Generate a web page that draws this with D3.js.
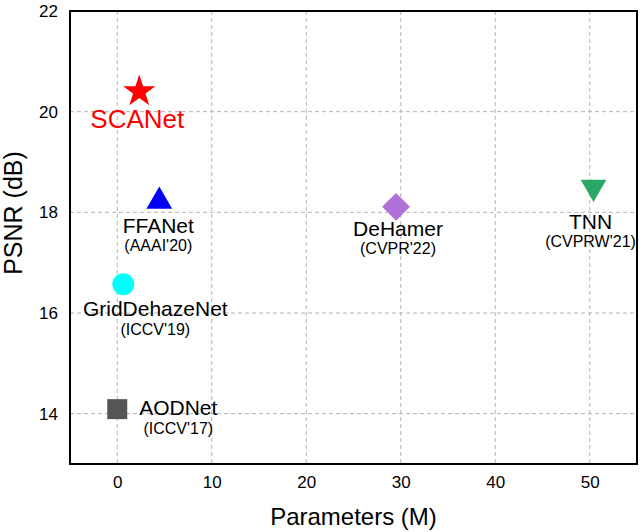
<!DOCTYPE html>
<html>
<head>
<meta charset="utf-8">
<script src="https://cdn.jsdelivr.net/npm/d3@7"></script>
<style>
  body { margin: 0; background: #fff; }
  text { font-family: Arial, "Liberation Sans", sans-serif; }
</style>
</head>
<body>
<svg id="chart"></svg>
<script>
// data
const methods = ["SCANet", "FFANet", "GridDehazeNet", "AODNet", "DeHamer", "TNN"];
const venues = ["", "(AAAI'20)", "(ICCV'19)", "(ICCV'17)", "(CVPR'22)", "(CVPRW'21)"];
const params = [2.33, 4.45, 0.64, 0.0, 29.5, 50.4];
const psnr = [20.4, 18.22, 16.57, 14.09, 18.11, 18.5];
const xTicks = [0, 10, 20, 30, 40, 50];
const yTicks = [14, 16, 18, 20, 22];

// styling per method
const markerStyle = [
    {shape: "star", size: 324, color: "#ff0000", rotate: 0},
    {shape: "triangle", size: 286, color: "#0000ff", rotate: 0},
    {shape: "circle", size: 380, color: "#00ffff", rotate: 0},
    {shape: "square", size: 400, color: "#555555", rotate: 0},
    {shape: "square", size: 384, color: "#b070d8", rotate: 45},
    {shape: "triangle", size: 286, color: "#2aa866", rotate: 180},
];
// label offsets from the marker, px: [dx, dy main, dy sub]
const labelOffsets = [
    [-2, 36, 0],
    [-1, 31.5, 49.5],
    [32, 32, 51],
    [61, 6, 25],
    [2, 29, 47],
    [-3, 42, 60],
];

const width = 640;
const height = 532;
const margin = {top: 11, right: 3, bottom: 68, left: 70};
const innerW = width - margin.left - margin.right;
const innerH = height - margin.top - margin.bottom;

const svg = d3.select("#chart")
    .attr("width", width)
    .attr("height", height);

const x = d3.scaleLinear().domain([-5, 55]).range([margin.left, margin.left + innerW]);
const y = d3.scaleLinear().domain([13, 22]).range([margin.top + innerH, margin.top]);

// dashed grid
svg.append("g")
    .selectAll("line")
    .data(xTicks)
    .enter().append("line")
    .attr("x1", d => x(d)).attr("x2", d => x(d))
    .attr("y1", margin.top).attr("y2", margin.top + innerH)
    .attr("stroke", "#b4b4b4")
    .attr("stroke-width", 1)
    .attr("stroke-dasharray", "4,3");

svg.append("g")
    .selectAll("line")
    .data(yTicks)
    .enter().append("line")
    .attr("x1", margin.left).attr("x2", margin.left + innerW)
    .attr("y1", d => y(d)).attr("y2", d => y(d))
    .attr("stroke", "#b4b4b4")
    .attr("stroke-width", 1)
    .attr("stroke-dasharray", "4,3");

// axes (labels only, frame drawn below)
const xAxis = svg.append("g")
    .attr("transform", `translate(0, ${margin.top + innerH})`)
    .call(d3.axisBottom(x).tickValues(xTicks).tickSize(0).tickPadding(12));
xAxis.select(".domain").remove();
xAxis.selectAll("text").attr("font-size", "17px").attr("fill", "#000")
    .style("font-family", "Arial, 'Liberation Sans', sans-serif");

const yAxis = svg.append("g")
    .attr("transform", `translate(${margin.left}, 0)`)
    .call(d3.axisLeft(y).tickValues(yTicks).tickSize(0).tickPadding(12));
yAxis.select(".domain").remove();
yAxis.selectAll("text").attr("font-size", "17px").attr("fill", "#000")
    .style("font-family", "Arial, 'Liberation Sans', sans-serif");

svg.append("rect")
    .attr("x", margin.left)
    .attr("y", margin.top)
    .attr("width", innerW)
    .attr("height", innerH)
    .attr("fill", "none")
    .attr("stroke", "#000")
    .attr("stroke-width", 2);

// axis titles
svg.append("text")
    .attr("x", margin.left + innerW / 2)
    .attr("y", 525)
    .attr("text-anchor", "middle")
    .attr("font-size", "24px")
    .text("Parameters (M)");

svg.append("text")
    .attr("transform", "translate(22, 213) rotate(-90)")
    .attr("text-anchor", "middle")
    .attr("font-size", "25px")
    .text("PSNR (dB)");

// markers
const symbolTypes = {
    star: d3.symbolStar,
    triangle: d3.symbolTriangle,
    circle: d3.symbolCircle,
    square: d3.symbolSquare,
};

const points = methods.map((m, i) => ({
    name: m,
    venue: venues[i],
    px: params[i],
    py: psnr[i],
    style: markerStyle[i],
    off: labelOffsets[i],
}));

svg.append("g")
    .selectAll("path")
    .data(points)
    .enter().append("path")
    .attr("transform", d => `translate(${x(d.px)}, ${y(d.py)}) rotate(${d.style.rotate})`)
    .attr("d", d => d3.symbol().type(symbolTypes[d.style.shape]).size(d.style.size)())
    .attr("fill", d => d.style.color);

// labels
svg.append("g")
    .selectAll("text")
    .data(points)
    .enter().append("text")
    .attr("x", d => x(d.px) + d.off[0])
    .attr("y", d => y(d.py) + d.off[1])
    .attr("text-anchor", "middle")
    .attr("font-size", d => d.name === "SCANet" ? "26px" : "21px")
    .attr("fill", d => d.name === "SCANet" ? "#ff0000" : "#000")
    .text(d => d.name);

svg.append("g")
    .selectAll("text")
    .data(points.filter(d => d.venue !== ""))
    .enter().append("text")
    .attr("x", d => x(d.px) + d.off[0])
    .attr("y", d => y(d.py) + d.off[2])
    .attr("text-anchor", "middle")
    .attr("font-size", "16px")
    .attr("fill", "#000")
    .text(d => d.venue);
</script>
</body>
</html>
